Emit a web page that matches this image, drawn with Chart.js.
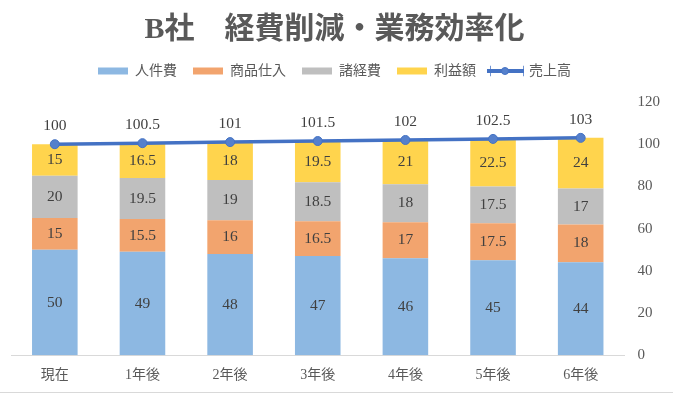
<!DOCTYPE html>
<html>
<head>
<meta charset="utf-8">
<script src="https://cdn.jsdelivr.net/npm/chart.js@4/dist/chart.umd.min.js"></script>
<style>
  html, body { margin: 0; padding: 0; background: #fff; }
  #wrap { width: 673px; height: 394px; position: relative; }
  #wrap::after { content: ""; position: absolute; left: 0; right: 0; top: 392px; height: 1px; background: #D9D9D9; }
</style>
</head>
<body>
<div id="wrap"><canvas id="myChart" width="673" height="394"></canvas></div>
<script>
let labels = ["現在", "1年後", "2年後", "3年後", "4年後", "5年後", "6年後"];
let jinkenhi = [50, 49, 48, 47, 46, 45, 44];
let shiire = [15, 15.5, 16, 16.5, 17, 17.5, 18];
let shokeihi = [20, 19.5, 19, 18.5, 18, 17.5, 17];
let rieki = [15, 16.5, 18, 19.5, 21, 22.5, 24];
let uriage = [100, 100.5, 101, 101.5, 102, 102.5, 103];

let serif = "'Liberation Serif', 'Noto Sans CJK JP', serif";
let legendExtra = 14;
let lineColor = "#4472C4";

// draws the numbers on bars and above line points
let valueLabels = {
  id: "valueLabels",
  afterDatasetsDraw: (chart) => {
    let ctx = chart.ctx;
    ctx.save();
    ctx.font = "15.5px " + serif;
    ctx.fillStyle = "#404040";
    ctx.textAlign = "center";
    ctx.textBaseline = "middle";
    chart.data.datasets.forEach((ds, i) => {
      let meta = chart.getDatasetMeta(i);
      meta.data.forEach((el, j) => {
        if (ds.type == "line") {
          ctx.fillText(ds.data[j], el.x, el.y - 18);
        } else {
          ctx.fillText(ds.data[j], el.x, (el.y + el.base) / 2);
        }
      });
    });
    ctx.restore();
  },
};

// extra room under the legend + line-style marker for 売上高
let legendTweaks = {
  id: "legendTweaks",
  beforeInit: (chart) => {
    let fit = chart.legend.fit;
    chart.legend.fit = function () {
      fit.bind(chart.legend)();
      this.height += legendExtra;
    };
  },
  afterDraw: (chart) => {
    let boxes = chart.legend.legendHitBoxes;
    if (!boxes || !boxes[4]) return;
    let hb = boxes[4];
    let ctx = chart.ctx;
    let cy = hb.top + hb.height / 2;
    ctx.save();
    ctx.fillStyle = "#fff";
    ctx.fillRect(hb.left - 1, cy - 6, 32, 12);
    ctx.strokeStyle = lineColor;
    ctx.lineWidth = 4;
    ctx.beginPath();
    ctx.moveTo(hb.left - 5, cy);
    ctx.lineTo(hb.left + 32, cy);
    ctx.stroke();
    ctx.beginPath();
    ctx.arc(hb.left + 13, cy, 3.5, 0, Math.PI * 2);
    ctx.fillStyle = "#5580CC";
    ctx.fill();
    ctx.lineWidth = 1;
    ctx.stroke();
    ctx.restore();
  },
};

let barDs = (label, data, color) => ({
  type: "bar",
  label: label,
  data: data,
  backgroundColor: color,
  borderWidth: 0,
  stack: "s",
  order: 2,
  categoryPercentage: 1,
  barPercentage: 0.52,
});

new Chart(document.getElementById("myChart"), {
  data: {
    labels: labels,
    datasets: [
      barDs("人件費", jinkenhi, "#8DB8E2"),
      barDs("商品仕入", shiire, "#F2A46E"),
      barDs("諸経費", shokeihi, "#BFBFBF"),
      barDs("利益額", rieki, "#FFD44D"),
      {
        type: "line",
        label: "売上高",
        data: uriage,
        borderColor: lineColor,
        backgroundColor: lineColor,
        borderWidth: 3.5,
        pointRadius: 4.5,
        pointBackgroundColor: "#5580CC",
        pointBorderColor: lineColor,
        pointBorderWidth: 1,
        order: 1,
      },
    ],
  },
  options: {
    responsive: false,
    animation: false,
    layout: { padding: { left: -4, right: 0, top: 4, bottom: -2 } },
    plugins: {
      tooltip: { enabled: false },
      title: {
        display: true,
        text: "B社　経費削減・業務効率化",
        color: "#595959",
        font: { family: serif, size: 30, weight: "bold" },
        padding: { top: 8, bottom: 0 },
      },
      legend: {
        display: true,
        labels: {
          color: "#595959",
          font: { family: serif, size: 14 },
          boxWidth: 30,
          boxHeight: 7,
          padding: 16,
          sort: (a, b) => a.datasetIndex - b.datasetIndex,
        },
      },
    },
    scales: {
      x: {
        stacked: true,
        grid: { display: false, drawTicks: false },
        border: { color: "#D9D9D9" },
        ticks: { color: "#595959", font: { family: serif, size: 14 }, padding: 12 },
      },
      y: {
        stacked: true,
        position: "right",
        min: 0,
        max: 120,
        grid: { display: false, drawTicks: false },
        border: { display: false },
        ticks: { stepSize: 20, color: "#595959", font: { family: serif, size: 15 }, padding: 13 },
      },
      // empty spacer on the left
      yL: {
        type: "linear",
        position: "left",
        grid: { display: false, drawTicks: false },
        border: { display: false },
        ticks: { display: false },
        afterFit: (s) => {
          s.width = 15;
        },
      },
    },
  },
  plugins: [valueLabels, legendTweaks],
});
</script>
</body>
</html>
